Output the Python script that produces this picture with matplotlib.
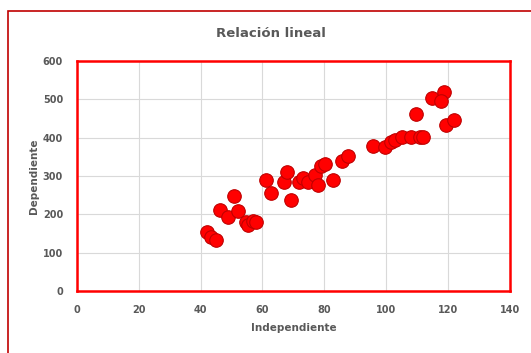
import matplotlib.pyplot as plt
from matplotlib.patches import Rectangle

# values
independiente = [42, 43.5, 45, 46.2, 48.9, 50.8, 52.2, 54.6, 55.4, 57, 57.9,
                 61.1, 62.8, 67, 67.8, 69.1, 71.9, 73, 74.8, 77, 78, 78.8, 80.2,
                 82.9, 85.6, 87.7, 95.8, 99.6, 101.7, 103, 105, 108.2, 110.9,
                 111.8, 109.8, 115, 118.8, 117.9, 119.5, 121.9]
dependiente = [153, 140, 132, 211, 194, 249, 210, 181, 172, 183, 181,
               290, 255, 285, 311, 238, 285, 294, 285, 303, 277, 326, 332,
               290, 338, 352, 379, 375, 390, 394, 403, 403, 403,
               403, 462, 503, 520, 496, 433, 445]

xticks = [0, 20, 40, 60, 80, 100, 120, 140]
yticks = [0, 100, 200, 300, 400, 500, 600]

gray = '#595959'
fig = plt.figure(figsize=(5.31, 3.53), dpi=100)
ax = fig.add_axes([0.145, 0.1756, 0.815, 0.6515])

ax.scatter(independiente, dependiente, s=95, color='#ff0000',
           edgecolor='#c00000', linewidth=0.8, zorder=3)

ax.set_xlim(0, 140)
ax.set_ylim(0, 600)
ax.set_xticks(xticks)
ax.set_yticks(yticks)
ax.grid(True, color='#d9d9d9', linewidth=0.8)
ax.set_axisbelow(True)
for s in ax.spines.values():
    s.set_color('#ff0000')
    s.set_linewidth(1.8)
ax.tick_params(axis='x', length=0, pad=10, labelsize=7, labelcolor=gray)
ax.tick_params(axis='y', length=0, pad=10, labelsize=7, labelcolor=gray)
for lab in ax.get_xticklabels() + ax.get_yticklabels():
    lab.set_fontweight('bold')

ax.set_xlabel('Independiente', fontsize=7.5, fontweight='bold', color=gray, labelpad=6)
ax.set_ylabel('Dependiente', fontsize=7.5, fontweight='bold', color=gray, labelpad=3)
fig.text(0.51, 0.905, 'Relación lineal', ha='center', va='center',
         fontsize=9.5, fontweight='bold', color=gray)

# outer chart frame
fig.patches.append(Rectangle((8 / 531, -0.1), 1.2, (353 - 11) / 353 + 0.1,
                             transform=fig.transFigure, fill=False,
                             edgecolor='#c00000', linewidth=1.2))

fig.savefig('out.png', dpi=100)
